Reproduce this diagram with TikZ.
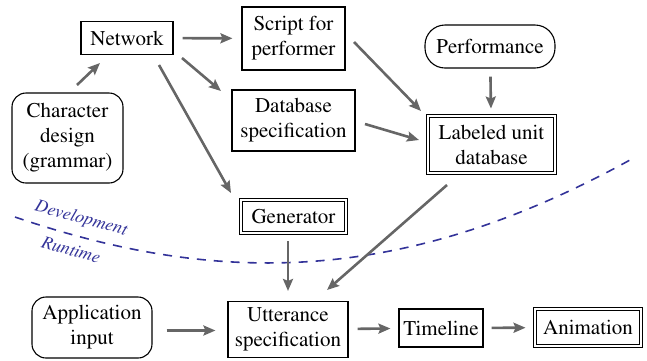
\documentclass[tikz,border=0pt]{standalone}
\usepackage[T1]{fontenc}
\renewcommand{\rmdefault}{ptm}
\usetikzlibrary{arrows.meta}
\definecolor{flowgray}{HTML}{666666}
\definecolor{phaseblue}{HTML}{333399}
\begin{document}
\begin{tikzpicture}[x=1pt,y=-1pt,
  font=\rmfamily\fontsize{21}{25}\selectfont,
  base/.style={align=center,inner sep=0pt,line width=1.1pt},
  plainbox/.style={base,draw},
  roundbox/.style={base,draw,rounded corners=14pt},
  dblbox/.style={base,draw,double,double distance=2.2pt,line width=0.9pt},
  flow/.style={draw=flowgray,line width=2.6pt,
    -{Stealth[length=12pt,width=10pt,inset=2pt]}},
  phase/.style={phaseblue,inner sep=0pt,font=\rmfamily\itshape\fontsize{18}{22}\selectfont}]
\useasboundingbox (0,0) rectangle (647,360);

% nodes
\node[plainbox,minimum width=92pt,minimum height=33pt] (net) at (127,38) {Network};
\node[plainbox,minimum width=103pt,minimum height=63pt] (script) at (293.5,38.5) {Script for\\performer};
\node[plainbox,minimum width=123pt,minimum height=61pt] (dbspec) at (293.5,120.5) {Database\\specification};
\node[roundbox,minimum width=111pt,minimum height=90pt] (char) at (67.5,138) {Character\\design\\(grammar)};
\node[dblbox,minimum width=105pt,minimum height=33pt] (gen) at (293.5,216.5) {Generator};
\node[roundbox,rounded corners=20pt,minimum width=130pt,minimum height=43pt] (perf) at (490,46.5) {Performance};
\node[dblbox,minimum width=127pt,minimum height=57pt] (lud) at (491.5,144.5) {Labeled unit\\database};
\node[roundbox,minimum width=120pt,minimum height=61pt] (app) at (92,327.5) {Application\\input};
\node[plainbox,minimum width=120pt,minimum height=56pt] (utt) at (288,329.5) {Utterance\\specification};
\node[plainbox,minimum width=84pt,minimum height=38pt] (time) at (441,328) {Timeline};
\node[dblbox,minimum width=106pt,minimum height=37pt] (anim) at (588,327.5) {Animation};

% development / runtime boundary
\draw[phaseblue,line width=1.6pt,dash pattern=on 9pt off 8pt]
  (15,217) .. controls (215,285) and (400,286.5) .. (630,160);
\node[phase,rotate=-15] (dev) at (81,219) {Development};
\node[phase,rotate=-15] (run) at (71,250) {Runtime};

% connectors
\coordinate (c1) at (77,85);  \coordinate (c2) at (100,63);
\draw[flow] (c1) -- (c2);
\draw[flow,shorten <=9pt,shorten >=9pt] (net) -- (script);
\coordinate (n1) at (182,58); \coordinate (n2) at (221,91);
\draw[flow] (n1) -- (n2);
\coordinate (g1) at (159,65); \coordinate (g2) at (231,193);
\draw[flow] (g1) -- (g2);
\coordinate (s1) at (354,42); \coordinate (s2) at (421,111);
\draw[flow] (s1) -- (s2);
\coordinate (d1) at (365,124); \coordinate (d2) at (419,140);
\draw[flow] (d1) -- (d2);
\draw[flow,shorten <=8pt,shorten >=7pt] (perf) -- (lud);
\coordinate (l1) at (447,185); \coordinate (l2) at (327,290);
\draw[flow] (l1) -- (l2);
\coordinate (gs) at (gen.south -| utt.north);
\draw[flow,shorten <=8pt,shorten >=10pt] (gs) -- (utt.north);
\coordinate (ae) at ([yshift=-3pt]app.east);
\draw[flow,shorten <=14pt,shorten >=12pt] (ae) -- (ae -| utt.west);
\draw[flow,shorten <=9pt,shorten >=8pt] (utt) -- (time);
\draw[flow,shorten <=8pt,shorten >=9pt] (time) -- (anim);
\end{tikzpicture}
\end{document}
